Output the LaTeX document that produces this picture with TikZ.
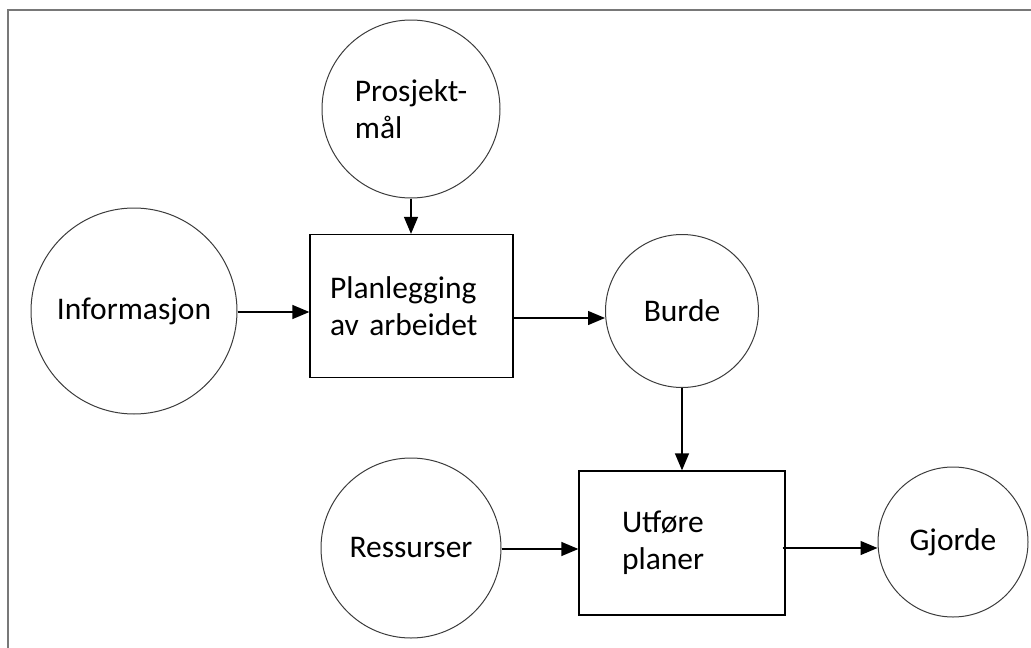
\documentclass[tikz,border=0pt]{standalone}
\usepackage{fontspec}
\setmainfont{Carlito}
\usepackage{tikz}
\usetikzlibrary{arrows.meta,positioning,calc}
\definecolor{cFrame}{RGB}{120,120,120}
\definecolor{cRing}{RGB}{60,60,60}

\begin{document}
\begin{tikzpicture}[
    x=1pt, y=-1pt,
    every node/.style={font=\fontsize{31.5}{37}\selectfont},
    ring/.style={circle,draw=cRing,line width=1pt,inner sep=0pt,align=left},
    task/.style={rectangle,draw,line width=1.3pt,inner ysep=0pt,align=left},
    arr/.style={-{Triangle[length=17pt,width=14pt]},line width=1.3pt},
    >=Stealth
  ]
  \useasboundingbox (0,0) rectangle (1031,648);
  \draw[cFrame,line width=1.6pt] (8,648) -- (8,10) -- (1031,10);

  \node[ring,minimum size=178pt] (maal) at (411,109) {Prosjekt-\\mål};
  \node[ring,minimum size=206pt] (info) at (134,311) {Informasjon};
  \node[task,minimum height=143pt,text width=163pt,inner xsep=20pt] (plan) at (411.5,306) {Planlegging\\av arbeidet};
  \node[ring,minimum size=153pt] (burde) at (682,311) {Burde};
  \node[ring,minimum size=180pt] (res) at (411,548) {Ressurser};
  \node[task,minimum height=144pt,text width=120pt,inner xsep=43pt] (utf) at (682,543) {Utføre\\planer};
  \node[ring,minimum size=150pt] (gjorde) at (953,542) {Gjorde};

  \draw[arr] (maal) -- (maal |- plan.north);
  \draw[arr] (info.east |- 0,312) -- (plan.west |- 0,312);
  \draw[arr] (plan.east |- 0,318) -- (burde.west |- 0,318);
  \draw[arr] (burde) -- (burde |- utf.north);
  \draw[arr] (res.east |- 0,549) -- (utf.west |- 0,549);
  \draw[arr] ([xshift=-3pt]utf.east |- 0,548) -- (gjorde.west |- 0,548);
\end{tikzpicture}
\end{document}
